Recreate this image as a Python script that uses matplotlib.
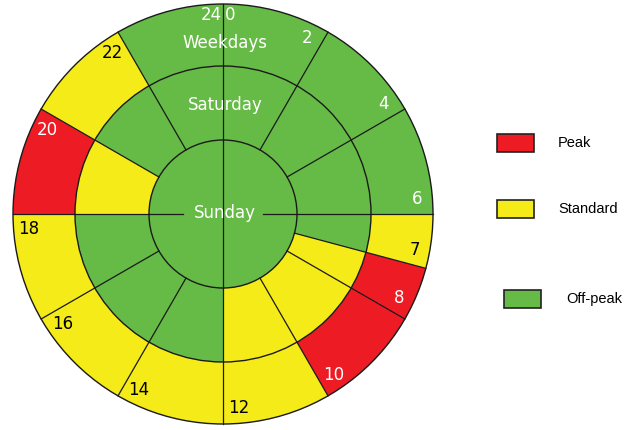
import numpy as np
import matplotlib.pyplot as plt
from matplotlib.patches import Wedge, Circle, Rectangle

# tariff periods as (start hour, end hour, band)
weekdays = [(0, 6, 'Off-peak'), (6, 7, 'Standard'), (7, 10, 'Peak'), (10, 18, 'Standard'),
            (18, 20, 'Peak'), (20, 22, 'Standard'), (22, 24, 'Off-peak')]
saturday = [(0, 7, 'Off-peak'), (7, 12, 'Standard'), (12, 18, 'Off-peak'),
            (18, 20, 'Standard'), (20, 24, 'Off-peak')]
sunday = [(0, 24, 'Off-peak')]
hour_labels = [2, 4, 6, 7, 8, 10, 12, 14, 16, 18, 20, 22]
spokes = [0, 2, 4, 6, 7, 8, 10, 12, 14, 16, 18, 20, 22]
bands = ['Peak', 'Standard', 'Off-peak']
colors = {'Peak': '#ED1C24', 'Standard': '#F5EB18', 'Off-peak': '#66BB46'}

cx, cy = 223, 214
r_out, r_mid, r_in = 210, 148, 74

fig = plt.figure(figsize=(6.37, 4.30), dpi=100)
ax = fig.add_axes([0, 0, 1, 1])
ax.set_xlim(0, 637)
ax.set_ylim(430, 0)
ax.axis('off')

def ang(h):
    return 15 * h - 90

def band_at(ring, h):
    for s, e, b in ring:
        if s <= h < e:
            return b

for ring, r, w in [(weekdays, r_out, r_out - r_mid), (saturday, r_mid, r_mid - r_in), (sunday, r_in, r_in)]:
    for s, e, b in ring:
        ax.add_patch(Wedge((cx, cy), r, ang(s), ang(e), width=w, facecolor=colors[b], edgecolor='none'))

for r in [r_out, r_mid, r_in]:
    ax.add_patch(Circle((cx, cy), r, fill=False, edgecolor='#1a1a1a', lw=1))

for h in spokes:
    t = np.radians(ang(h))
    ax.plot([cx + r_in * np.cos(t), cx + r_out * np.cos(t)],
            [cy + r_in * np.sin(t), cy + r_out * np.sin(t)], color='#1a1a1a', lw=0.9)
# cross through the inner circle
ax.plot([cx, cx], [cy - r_in, cy + r_in], color='#1a1a1a', lw=0.9)
ax.plot([cx - r_in, cx - 40], [cy, cy], color='#1a1a1a', lw=0.9)
ax.plot([cx + 40, cx + r_in], [cy, cy], color='#1a1a1a', lw=0.9)

for h in hour_labels:
    hh = h - 0.3
    t = np.radians(ang(hh))
    x, y = cx + 195 * np.cos(t), cy + 195 * np.sin(t)
    c = 'black' if band_at(weekdays, hh % 24) == 'Standard' else 'white'
    ax.text(x, y, str(h), color=c, fontsize=12, ha='center', va='center')
ax.text(cx - 1, 15, '24', color='white', fontsize=12, ha='right', va='center')
ax.text(cx + 2, 15, '0', color='white', fontsize=12, ha='left', va='center')

ax.text(cx + 2, 43, 'Weekdays', color='white', fontsize=12, ha='center', va='center')
ax.text(cx + 2, 105, 'Saturday', color='white', fontsize=12, ha='center', va='center')
ax.text(cx + 2, 213, 'Sunday', color='white', fontsize=12, ha='center', va='center')

legend_pos = [(497, 134, 558), (497, 200, 558), (504, 290, 566)]
for b, (x, y, tx) in zip(bands, legend_pos):
    ax.add_patch(Rectangle((x, y), 37, 18, facecolor=colors[b], edgecolor='#222222', lw=1.2))
    ax.text(tx, y + 9, b, fontsize=10.5, ha='left', va='center', color='black',
            family='Liberation Sans')

fig.savefig('out.png', dpi=100)
